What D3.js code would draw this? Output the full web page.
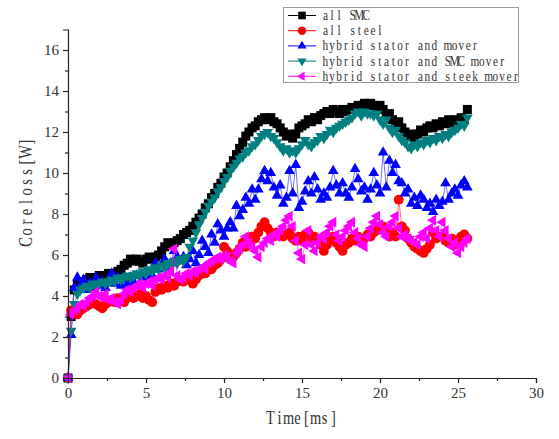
<!DOCTYPE html>
<html><head><meta charset="utf-8">
<script src="https://cdn.jsdelivr.net/npm/d3@7"></script>
<style>body{margin:0;background:#fff}svg{display:block}</style>
</head><body>
<svg id="c" width="559" height="439"></svg>
<script>
const dt = 0.2; // sampling step in ms
const seriesNames = ["all SMC","all steel","hybrid stator and mover","hybrid stator and SMC mover","hybrid stator and steek mover"];
const seriesColors = ["#000000","#ff0000","#0000ff","#008080","#ff00ff"];
const seriesMarkers = ["square","circle","up","down","left"];
const allSMC = [
 0,3.0,4.3,4.6,4.7,4.7,4.8,4.9,4.8,4.9,
 5.0,4.9,5.0,5.1,5.0,5.1,5.2,5.3,5.5,5.6,
 5.8,5.7,5.8,5.7,5.6,5.8,5.9,5.8,5.9,6.0,
 6.2,6.4,6.6,6.5,6.6,6.7,6.8,7.0,7.1,7.2,
 7.4,7.6,7.8,8.0,8.3,8.5,8.8,9.0,9.3,9.5,
 9.8,10.0,10.3,10.6,10.9,11.2,11.5,11.8,12.0,12.2,
 12.3,12.5,12.6,12.7,12.6,12.7,12.5,12.4,12.2,12.0,
 11.8,11.9,11.7,11.9,12.2,12.3,12.4,12.6,12.5,12.7,
 12.6,12.8,12.9,13.0,12.9,13.1,13.0,12.9,13.1,13.0,
 13.1,13.2,13.1,13.3,13.2,13.4,13.3,13.4,13.3,13.2,
 13.3,13.1,12.8,12.9,12.6,12.4,12.5,12.2,12.0,11.8,
 11.9,11.7,11.9,12.1,12.0,12.2,12.3,12.2,12.4,12.3,
 12.5,12.4,12.6,12.4,12.6,12.5,12.7,12.6,13.1];
const allSteel = [
 0,3.3,3.2,3.1,3.3,3.4,3.5,3.6,3.7,3.6,
 3.5,3.4,3.6,3.7,3.8,3.7,3.9,3.8,3.7,3.9,
 4.0,3.9,4.0,4.1,3.9,4.0,3.8,3.7,4.2,4.4,
 4.3,4.5,4.4,4.6,4.5,4.7,4.8,4.7,4.8,4.9,
 4.6,4.8,5.0,5.3,5.1,5.4,5.3,5.5,5.6,5.8,
 6.4,6.2,6.0,5.9,6.1,6.3,6.6,6.4,6.7,6.9,
 6.8,7.1,7.4,7.6,7.3,7.1,6.9,7.1,7.0,6.9,
 7.0,7.1,6.8,6.7,6.9,6.7,7.0,7.1,6.8,6.9,
 6.7,6.5,6.2,6.5,6.7,6.9,6.6,6.4,6.2,6.5,
 6.6,6.8,6.7,6.9,6.6,6.8,7.0,6.9,7.1,7.2,
 7.3,7.4,7.2,6.9,7.1,6.9,8.7,7.4,7.2,6.8,
 6.6,6.4,6.3,6.2,6.1,6.3,6.5,7.1,6.8,6.9,
 6.9,6.7,6.6,6.8,6.5,6.7,6.9,7.0,6.8];
const hybridStatorMover = [
 0,2.1,4.4,4.9,4.5,4.8,4.3,4.6,4.4,4.9,
 4.5,4.7,4.4,4.8,5.1,4.6,4.9,4.5,4.8,4.6,
 4.9,4.7,5.0,4.6,4.9,5.2,4.8,5.0,5.6,5.3,
 5.5,5.8,5.4,5.6,6.2,5.9,5.7,5.9,5.5,5.8,
 6.2,5.6,6.0,6.7,6.4,6.1,7.0,6.6,7.5,7.2,
 6.9,7.3,7.6,7.3,8.4,7.9,8.2,8.8,8.5,9.2,
 8.7,9.2,9.7,10.1,9.6,10.0,9.3,8.9,9.4,8.5,
 8.8,10.1,9.0,10.4,8.3,8.6,9.1,9.6,9.0,9.8,
 9.2,8.7,9.0,8.8,9.3,10.1,9.4,9.0,9.5,9.0,
 8.8,9.3,10.2,9.7,9.1,9.3,8.7,9.2,10.0,9.4,
 9.0,11.0,9.3,10.6,10.0,10.4,9.6,9.5,9.0,9.2,
 8.5,8.8,8.4,8.9,8.7,8.3,8.5,8.1,8.7,8.4,
 8.6,9.5,8.7,9.0,9.2,8.9,9.4,9.6,9.3];
const hybridStatorSMCMover = [
 0,2.3,3.6,4.1,4.3,4.4,4.5,4.4,4.6,4.5,
 4.6,4.7,4.6,4.7,4.8,4.7,4.9,4.8,4.9,5.0,
 4.9,5.0,5.1,5.0,5.2,5.1,5.3,5.2,5.4,5.3,
 5.5,5.4,5.6,5.5,5.7,5.6,5.8,5.7,5.9,6.4,
 6.7,7.1,7.5,7.8,8.1,8.4,8.6,8.8,9.1,9.3,
 9.6,9.8,10.1,10.3,10.5,10.7,10.8,11.0,11.1,11.3,
 11.4,11.6,11.8,11.9,12.0,11.8,11.7,11.5,11.3,11.1,
 11.2,11.0,11.1,11.0,11.2,11.4,11.6,11.4,11.3,11.5,
 11.6,11.8,11.7,11.9,12.1,12.0,12.2,12.3,12.4,12.5,
 12.6,12.7,12.9,13.0,12.8,13.0,12.9,12.9,12.8,12.9,
 12.6,12.4,12.6,12.2,12.0,12.1,11.8,11.6,11.5,11.3,
 11.2,11.4,11.3,11.5,11.4,11.6,11.5,11.7,11.6,11.8,
 11.7,11.9,11.8,12.0,12.1,12.2,12.4,12.3,12.7];
const hybridStatorSteelMover = [
 0,3.1,3.3,3.4,3.6,3.5,3.7,3.9,4.0,4.2,
 4.0,3.9,4.1,3.8,3.9,3.7,3.6,3.8,4.1,4.3,
 4.2,4.4,4.5,4.6,4.4,4.6,4.7,4.5,4.8,4.9,
 4.8,5.0,4.9,5.2,6.3,5.0,4.8,4.9,5.1,5.0,
 5.2,5.1,5.3,5.4,5.3,5.6,5.7,5.8,5.9,5.8,
 6.0,5.9,5.7,5.6,6.1,6.3,6.5,6.9,6.6,6.4,
 6.2,5.9,6.4,6.6,6.8,6.7,7.0,6.9,7.2,7.4,
 7.7,7.9,7.4,6.7,6.1,5.8,6.5,7.2,6.5,6.2,
 6.6,6.9,6.8,7.1,7.4,7.6,7.0,6.7,6.9,7.2,
 7.4,7.6,7.1,6.8,6.5,6.4,6.9,7.3,7.6,7.9,
 7.5,7.1,6.9,7.4,7.6,7.9,7.3,6.9,7.0,6.8,
 6.7,6.6,6.5,6.9,7.1,6.8,7.3,7.7,7.2,6.9,
 7.6,7.2,6.8,6.4,6.6,6.1,6.4,6.6,6.8];
const seriesValues = [allSMC, allSteel, hybridStatorMover, hybridStatorSMCMover, hybridStatorSteelMover];
const xTicks = [0,5,10,15,20,25,30];
const yTicks = [0,2,4,6,8,10,12,14,16];
const xTitle = "Time[ms]";
const yTitle = "Coreloss[W]";

const svg = d3.select("#c");
const x = d3.scaleLinear().domain([0,30]).range([68,536]);
const y = d3.scaleLinear().domain([0,17]).range([378,29.5]);
const serif = "'Liberation Serif','DejaVu Serif',serif";

function markerPath(type){
  if(type==="square") return "M-4.5,-4.5H4.5V4.5H-4.5Z";
  if(type==="circle") return d3.symbol(d3.symbolCircle, 76)();
  const r = 6.2, a = r*0.866, b = r*0.5;
  if(type==="up") return `M0,${-r}L${a},${b}L${-a},${b}Z`;
  if(type==="down") return `M0,${r}L${a},${-b}L${-a},${-b}Z`;
  if(type==="left") return `M${-r},0L${b},${-a}L${b},${a}Z`;
}
// monospace-like placement: each character centred in a fixed-width cell,
// inside a horizontally condensed text (scale sx)
function monoText(parent, str, x0, y0, w, size, sx, rotate){
  const g = parent.append("g").attr("transform",
    `translate(${x0},${y0})${rotate?" rotate(-90)":""} scale(${sx},1)`);
  g.append("text")
    .attr("x", Array.from(str).map((c,i)=>(((i+0.5)*w)/sx).toFixed(2)).join(" "))
    .attr("y", 0).attr("text-anchor","middle")
    .attr("font-family", serif).attr("font-size", size).attr("fill","#333").text(str);
  return g;
}

// series
const line = d3.line().x(d=>x(d[0])).y(d=>y(d[1]));
seriesValues.forEach((vals,k)=>{
  const pts = vals.map((v,i)=>[i*dt, v]);
  const g = svg.append("g");
  g.append("path").attr("d", line(pts)).attr("fill","none")
    .attr("stroke", seriesColors[k]).attr("stroke-width",0.7).attr("stroke-opacity",0.8);
  g.selectAll("path.m").data(pts).join("path").attr("class","m")
    .attr("transform", d=>`translate(${x(d[0])},${y(d[1])})`)
    .attr("d", markerPath(seriesMarkers[k])).attr("fill", seriesColors[k]);
});

// axes
svg.append("g").attr("transform","translate(0,378)")
  .call(d3.axisBottom(x).tickValues(xTicks).tickSize(5).tickPadding(4).tickFormat(d3.format("d")));
svg.append("g").attr("transform","translate(0,378)")
  .call(d3.axisBottom(x).tickValues(d3.range(2.5,30,5)).tickSize(3).tickFormat(""))
  .select(".domain").remove();
svg.append("g").attr("transform","translate(68,0)")
  .call(d3.axisLeft(y).tickValues(yTicks).tickSize(5).tickPadding(4).tickFormat(d3.format("d")));
svg.append("g").attr("transform","translate(68,0)")
  .call(d3.axisLeft(y).tickValues(d3.range(1,17,2)).tickSize(3).tickFormat(""))
  .select(".domain").remove();
svg.selectAll(".domain").attr("stroke","#222").attr("stroke-width",1.2);
svg.selectAll(".tick line").attr("stroke","#222").attr("stroke-width",1.2);
svg.selectAll(".tick text").attr("font-family",serif).attr("font-size",15).attr("fill","#333");

monoText(svg, xTitle, 266, 424, 9, 18, 0.8, false);
monoText(svg, yTitle, 32, 247, 10, 18, 0.8, true);

// legend
const lg = svg.append("g");
lg.append("rect").attr("x",283.5).attr("y",7.5).attr("width",235).attr("height",75)
  .attr("fill","#fff").attr("stroke","#999").attr("stroke-width",1);
seriesNames.forEach((name,k)=>{
  const cy = 15.5 + k*15.2;
  lg.append("line").attr("x1",288).attr("x2",316).attr("y1",cy).attr("y2",cy)
    .attr("stroke",seriesColors[k]).attr("stroke-width",1);
  lg.append("path").attr("transform",`translate(302,${cy}) scale(0.85)`).attr("d",markerPath(seriesMarkers[k]))
    .attr("fill",seriesColors[k]);
  monoText(lg, name, 322, cy+4.5, 6.8, 14.5, 0.78, false);
});
</script>
</body></html>
